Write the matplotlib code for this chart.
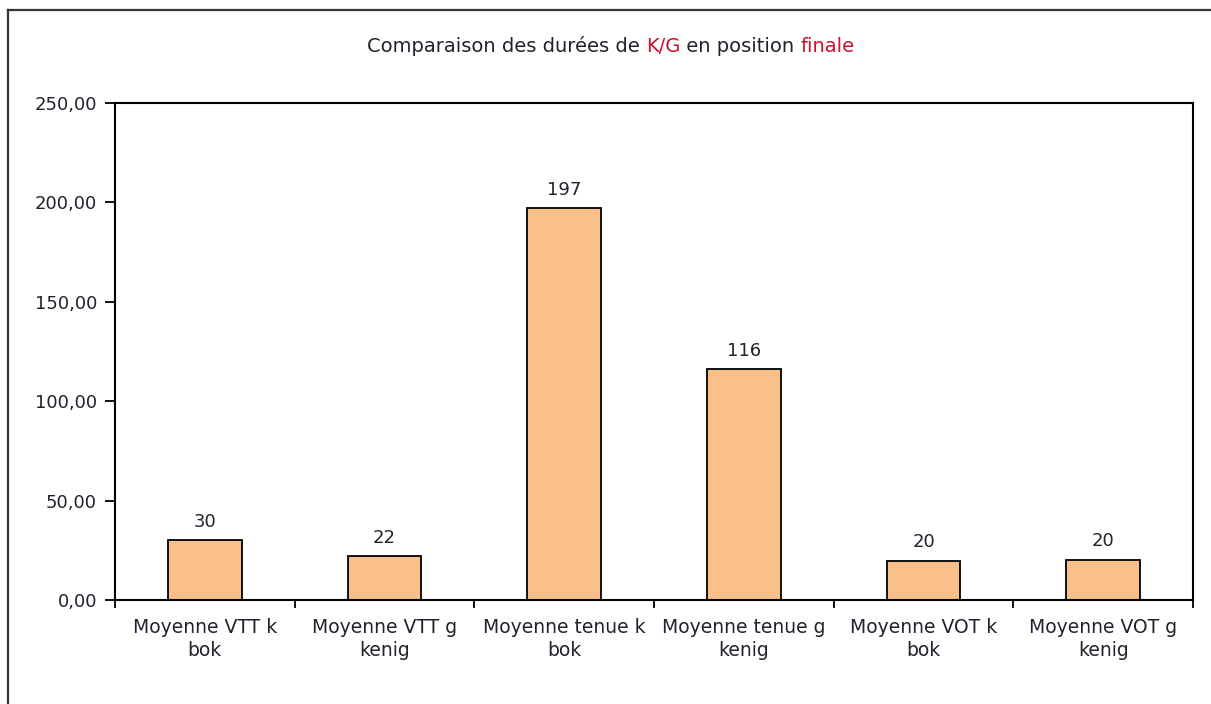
import matplotlib.pyplot as plt
import numpy as np
from matplotlib.lines import Line2D
from matplotlib.ticker import FixedLocator, FuncFormatter

categories = ["Moyenne VTT k\nbok", "Moyenne VTT g\nkenig", "Moyenne tenue k\nbok",
              "Moyenne tenue g\nkenig", "Moyenne VOT k\nbok", "Moyenne VOT g\nkenig"]
values = [30, 22, 197, 116, 19.6, 20.3]
y_ticks = [0, 50, 100, 150, 200, 250]

txt = "#22222e"
red = "#c8102e"
fs = 13

fig = plt.figure(figsize=(12.11, 7.04), dpi=100)
ax = fig.add_axes([115/1211, 1-600/704, (1193-115)/1211, (600-103)/704])

x = np.arange(len(categories))
bars = ax.bar(x, values, width=0.41, color="#f9c08a", edgecolor="black", linewidth=1.3)
for b, v in zip(bars, values):
    ax.annotate(f"{v:.0f}", (b.get_x() + b.get_width()/2, v), xytext=(0, 7),
                textcoords="offset points", ha="center", va="bottom", fontsize=fs, color=txt)

ax.set_xlim(-0.5, len(categories) - 0.5)
ax.set_ylim(0, 250)
ax.set_yticks(y_ticks)
ax.yaxis.set_major_formatter(FuncFormatter(lambda v, p: f"{v:.2f}".replace(".", ",")))
ax.tick_params(axis="y", length=7, width=1.3, labelsize=fs, labelcolor=txt, pad=6)

ax.set_xticks(x)
ax.set_xticklabels(categories, fontsize=13.5, color=txt, linespacing=1.25)
ax.tick_params(axis="x", which="major", length=0, pad=13)
ax.xaxis.set_minor_locator(FixedLocator(np.arange(len(categories) + 1) - 0.5))
ax.tick_params(axis="x", which="minor", length=6, width=1.3)

for s in ax.spines.values():
    s.set_linewidth(1.5)

# title in pieces, some words in red
parts = [("Comparaison des durées de ", txt), ("K/G", red), (" en position ", txt), ("finale", red)]
fig.canvas.draw()
r = fig.canvas.get_renderer()
objs = [fig.text(0, 1-52/704, p, color=c, fontsize=14, va="baseline") for p, c in parts]
widths = [o.get_window_extent(r).width for o in objs]
start = 611 - sum(widths)/2
for o, w in zip(objs, widths):
    o.set_x(start/1211)
    start += w

# outer frame (left and top edges visible)
fig.add_artist(Line2D([8/1211, 8/1211], [0, 1-10/704], transform=fig.transFigure, color="#333333", lw=1.6))
fig.add_artist(Line2D([8/1211, 1], [1-10/704, 1-10/704], transform=fig.transFigure, color="#333333", lw=1.6))

fig.savefig("out.png", dpi=100)
